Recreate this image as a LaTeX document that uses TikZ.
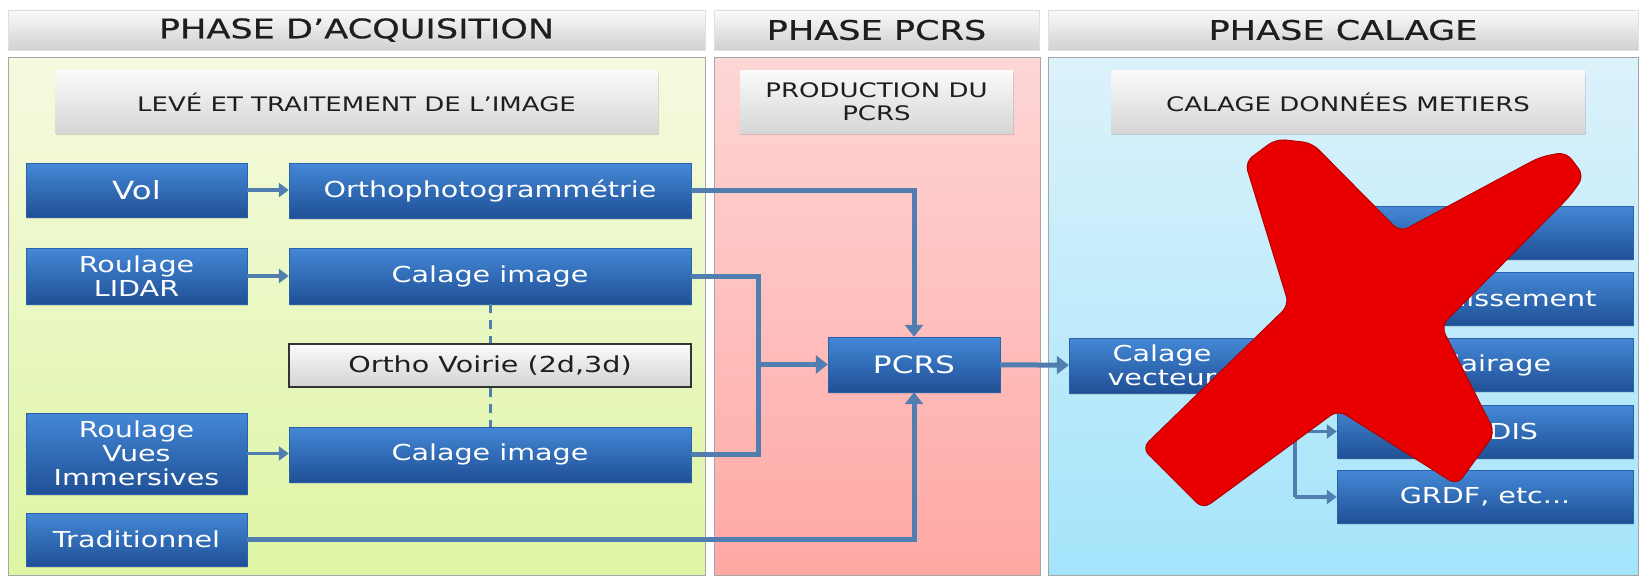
\documentclass[tikz,border=0pt]{standalone}
\usepackage{fontspec}
\setmainfont{DejaVu Sans}[FakeStretch=1.3]
\newfontfamily\headfont{DejaVu Sans}[FakeStretch=1.3,FakeBold=0.5]
\usetikzlibrary{arrows.meta,shadows}
\definecolor{lnk}{RGB}{80,126,176}
\definecolor{boxtop}{RGB}{68,136,214}
\definecolor{boxbot}{RGB}{31,80,150}
\definecolor{xred}{RGB}{232,0,0}
\definecolor{xdark}{RGB}{180,0,0}
\definecolor{greentop}{RGB}{245,250,224}
\definecolor{greenbot}{RGB}{222,245,164}
\definecolor{pinktop}{RGB}{253,214,214}
\definecolor{pinkbot}{RGB}{255,168,164}
\definecolor{bluetop}{RGB}{220,242,251}
\definecolor{bluebot}{RGB}{164,228,251}
\definecolor{txtgray}{RGB}{30,30,30}
\begin{document}
\begin{tikzpicture}[x=1pt,y=-1pt,
	phasebar/.style={rectangle,inner sep=0pt,top color=gray!4,bottom color=gray!36,
		draw=gray!25,text=txtgray,font=\headfont\fontsize{27}{30}\selectfont},
	subbar/.style={rectangle,inner sep=0pt,top color=gray!4,bottom color=gray!32,
		text=txtgray,align=center,font=\fontsize{20}{23}\selectfont,
		drop shadow={opacity=.3,shadow xshift=1pt,shadow yshift=-2pt}},
	bluebox/.style={rectangle,inner sep=0pt,top color=boxtop,bottom color=boxbot,
		draw=boxbot!70!boxtop,text=white,align=center,font=\fontsize{22}{24}\selectfont,
		drop shadow={opacity=.25,shadow xshift=1pt,shadow yshift=-1.5pt}},
	graybox/.style={rectangle,inner sep=0pt,top color=gray!3,bottom color=gray!35,
		draw=black!80,line width=1.2pt,text=txtgray,font=\fontsize{22}{24}\selectfont},
	link/.style={draw=lnk,line width=5pt},
	thinlink/.style={draw=lnk,line width=3.5pt},
	dashlink/.style={draw=lnk,line width=3pt,dash pattern=on 9pt off 7pt},
	arr/.style={-{Triangle[length=12pt,width=18pt]}},
	smallarr/.style={-{Triangle[length=10pt,width=14pt]}}]
	\useasboundingbox (0,0) rectangle (1646,578);
	\def\lw{221pt}
	\def\cw{402pt}
	\def\rw{296pt}
	% phases
	\node[phasebar,minimum width=697pt,minimum height=40pt] (phA) at (356.5,30) {PHASE D’ACQUISITION};
	\node[phasebar,minimum width=325pt,minimum height=40pt] (phB) at (876.5,30) {PHASE PCRS};
	\node[phasebar,minimum width=590pt,minimum height=40pt] (phC) at (1343,30) {PHASE CALAGE};
	\shade[top color=greentop,bottom color=greenbot,draw=gray!70,line width=1pt]
	(8,58) rectangle (705,575);
	\shade[top color=pinktop,bottom color=pinkbot,draw=gray!70,line width=1pt]
	(714,58) rectangle (1040,575);
	\shade[top color=bluetop,bottom color=bluebot,draw=gray!70,line width=1pt]
	(1048,58) rectangle (1638,575);
	\node[subbar,minimum width=603pt,minimum height=62pt] (subA) at (356.5,102) {LEVÉ ET TRAITEMENT DE L’IMAGE};
	\node[subbar,minimum width=273pt,minimum height=62pt] (subB) at (876.5,102) {PRODUCTION DU\\PCRS};
	\node[subbar,minimum width=474pt,minimum height=62pt] (subC) at (1348,102) {CALAGE DONNÉES METIERS};
	% acquisition
	\node[bluebox,minimum width=\lw,minimum height=54pt,font=\fontsize{25}{27}\selectfont] (vol) at (136.5,190) {Vol};
	\node[bluebox,minimum width=\lw,minimum height=56pt] (lidar) at (136.5,276) {Roulage\\LIDAR};
	\node[bluebox,minimum width=\lw,minimum height=81pt] (vues) at (136.5,453.5) {Roulage\\Vues\\Immersives};
	\node[bluebox,minimum width=\lw,minimum height=53pt] (trad) at (136.5,539.5) {Traditionnel};
	\node[bluebox,minimum width=\cw,minimum height=55pt] (ortho) at (490,190.5) {Orthophotogrammétrie};
	\node[bluebox,minimum width=\cw,minimum height=56pt] (calA) at (490,276) {Calage image};
	\node[graybox,minimum width=\cw,minimum height=43pt] (voirie) at (490,365.5) {Ortho Voirie (2d,3d)};
	\node[bluebox,minimum width=\cw,minimum height=55pt] (calB) at (490,454.5) {Calage image};
	% pcrs et calage
	\node[bluebox,minimum width=172pt,minimum height=55pt,font=\fontsize{24}{26}\selectfont] (pcrs) at (914,364.5) {PCRS};
	\node[bluebox,minimum width=186pt,minimum height=55pt] (vect) at (1162,365.5) {Calage\\vecteur};
	\foreach \n/\yy/\t in {1/232.5/{},2/298.5/Assainissement,3/365/Eclairage,4/431.5/ENEDIS,5/497/{GRDF, etc...}}
	\node[bluebox,minimum width=\rw,minimum height=53pt] (m\n) at (1485,\yy) {\t};
	% liens
	\draw[thinlink,smallarr] (vol.east) -- (ortho.west |- vol.east);
	\draw[thinlink,smallarr] (lidar.east) -- (calA.west |- lidar.east);
	\draw[thinlink,smallarr] (vues.east) -- (calB.west |- vues.east);
	\draw[dashlink] (calA) -- (voirie) (voirie) -- (calB);
	\draw[link,arr] (ortho.east) -| (pcrs.north);
	\coordinate (jn) at (758,364.5);
	\draw[link] (calA.east) -| (jn) |- (calB.east);
	\draw[link,arr] (jn) -- (pcrs.west);
	\draw[link,arr] (trad.east) -| (pcrs.south);
	\draw[link,arr] (pcrs) -- (vect);
	\coordinate (bus) at (1295,365);
	\draw[thinlink] (vect.east) -- (bus);
	\draw[thinlink] (bus |- m1.west) -- (bus |- m5.west);
	\foreach \n in {1,...,5}
	\draw[thinlink,smallarr] (bus |- m\n.west) -- (m\n.west);
	% croix
	\filldraw[fill=xred,draw=xdark,line width=1pt,rounded corners=9pt]
	(1245,162) -- (1276,139) -- (1312,143) -- (1400,232)
	-- (1540,157) -- (1566,152) -- (1584,176) -- (1570,196)
	-- (1441,326) -- (1495,433) -- (1457,485) -- (1338,410)
	-- (1203,509) -- (1142,448) -- (1289,305) -- cycle;
\end{tikzpicture}
\end{document}
